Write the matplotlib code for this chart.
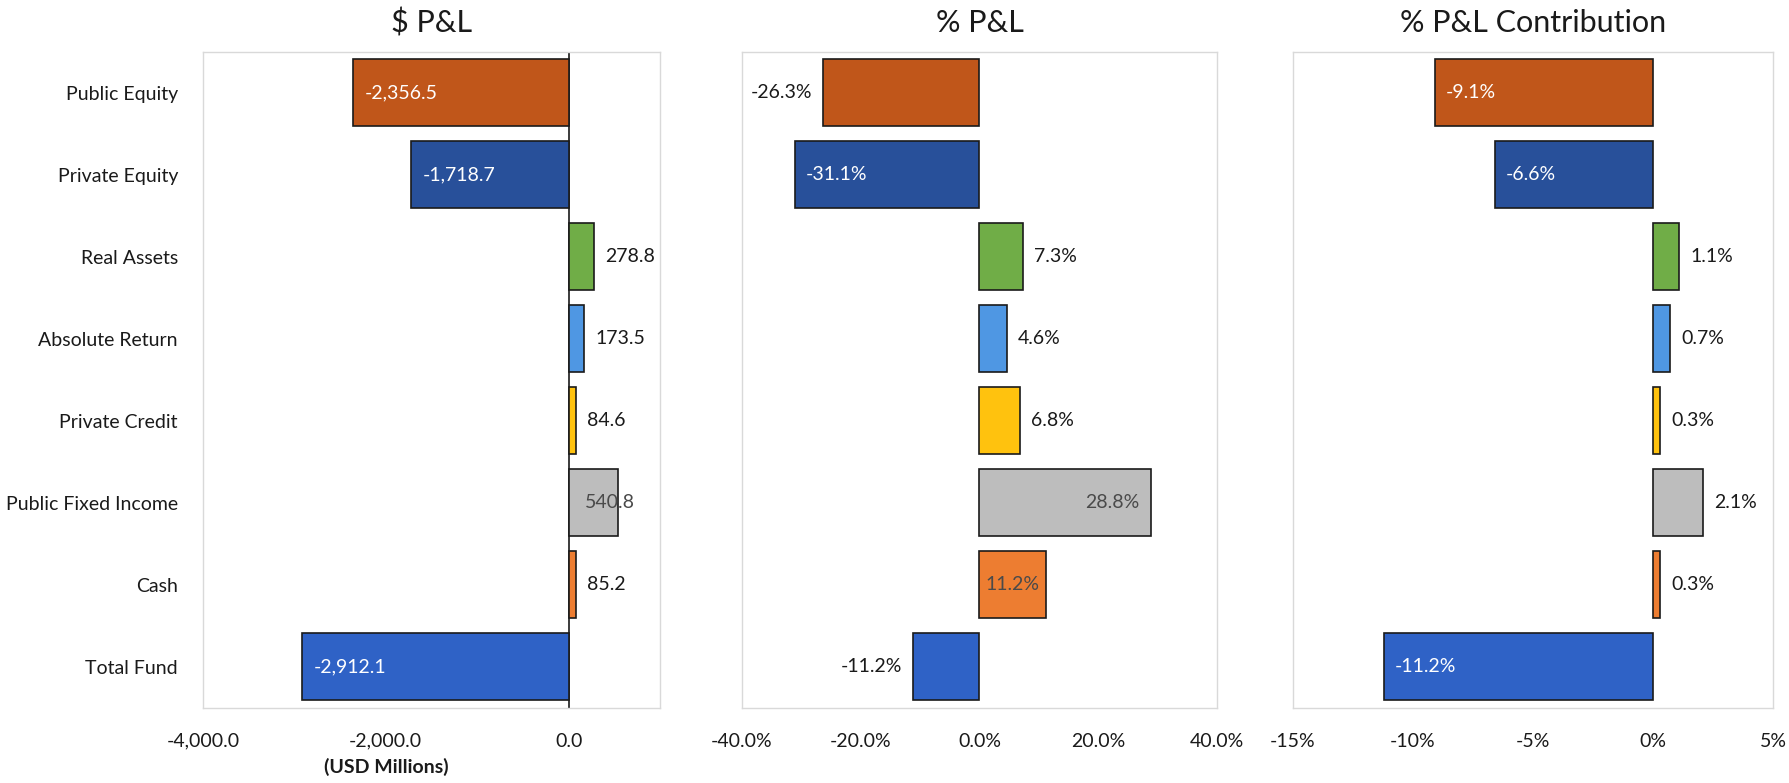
import matplotlib
matplotlib.use("Agg")
import matplotlib.pyplot as plt
from matplotlib.ticker import FuncFormatter, MultipleLocator

plt.rcParams["font.family"] = ["Lato", "DejaVu Sans"]

# Asset classes and P&L figures
categories = ["Public Equity", "Private Equity", "Real Assets", "Absolute Return",
              "Private Credit", "Public Fixed Income", "Cash", "Total Fund"]
pnl_usd = [-2356.5, -1718.7, 278.8, 173.5, 84.6, 540.8, 85.2, -2912.1]
pnl_pct = [-26.3, -31.1, 7.3, 4.6, 6.8, 28.8, 11.2, -11.2]
pnl_contrib = [-9.1, -6.6, 1.1, 0.7, 0.3, 2.1, 0.3, -11.2]

bar_colors = ["#C0561A", "#28509A", "#70AD47", "#4F97E3", "#FFC20E",
              "#BDBDBD", "#ED7D31", "#2F62C6"]

# label placement per bar: "in" = inside the far end, "out" = beyond the far end,
# "mid" = centred on the bar, "edge" = straddling the far end
usd_place = ["in", "in", "out", "out", "out", "edge", "out", "in"]
pct_place = ["out", "in", "out", "out", "out", "in", "mid", "out"]
contrib_place = ["in", "in", "out", "out", "out", "out", "out", "in"]

dark_fill = {0, 1, 7}


def label_style(i, place):
    if place == "in" and i in dark_fill:
        return "white"
    if place in ("in", "mid", "edge"):
        return "#4a4a4a"
    return "#1a1a1a"


def draw_panel(ax, values, places, fmt, title, xlim, step, tickfmt):
    y = list(range(len(categories)))
    ax.barh(y, values, height=0.82, color=bar_colors, edgecolor="#1a1a1a",
            linewidth=1.2, zorder=3)
    ax.set_ylim(len(categories) - 0.5, -0.5)
    ax.set_xlim(*xlim)
    ax.xaxis.set_major_locator(MultipleLocator(step))
    ax.xaxis.set_major_formatter(FuncFormatter(tickfmt))
    ax.tick_params(axis="both", length=0, labelsize=14, colors="#1a1a1a")
    ax.tick_params(axis="x", pad=18)
    for s in ax.spines.values():
        s.set_color("#d9d9d9")
        s.set_linewidth(1.0)
    ax.set_title(title, fontsize=22, color="#1a1a1a", pad=14)
    for i, v in enumerate(values):
        place = places[i]
        txt = fmt(v)
        col = label_style(i, place)
        if place == "in":
            ha = "left" if v < 0 else "right"
            off = 8 if v < 0 else -8
            ax.annotate(txt, (v, i), xytext=(off, 0), textcoords="offset points",
                        ha=ha, va="center", fontsize=14, color=col, zorder=4)
        elif place == "out":
            ha = "right" if v < 0 else "left"
            off = -8 if v < 0 else 8
            ax.annotate(txt, (v, i), xytext=(off, 0), textcoords="offset points",
                        ha=ha, va="center", fontsize=14, color=col, zorder=4,
                        annotation_clip=False)
        elif place == "mid":
            ax.annotate(txt, (v / 2, i), ha="center", va="center",
                        fontsize=14, color=col, zorder=4)
        else:
            ax.annotate(txt, (v, i), xytext=(12, 0), textcoords="offset points",
                        ha="right", va="center", fontsize=14, color=col, zorder=4)


fig = plt.figure(figsize=(17.9, 7.83), dpi=100)
ax1 = fig.add_axes([0.1134, 0.096, 0.2553, 0.838])
ax2 = fig.add_axes([0.4145, 0.096, 0.2654, 0.838])
ax3 = fig.add_axes([0.7223, 0.096, 0.2682, 0.838])

draw_panel(ax1, pnl_usd, usd_place, lambda v: f"{v:,.1f}", "$ P&L",
           (-4000, 1000), 2000, lambda v, p: f"{v:,.1f}")
ax1.axvline(0, color="#1a1a1a", linewidth=1.2, zorder=2)
ax1.set_yticks(range(len(categories)))
ax1.set_yticklabels(categories)
ax1.tick_params(axis="y", pad=18)
fig.text(0.2156, 0.021, "(USD Millions)", fontsize=14, fontweight="bold",
         color="#1a1a1a", ha="center", va="center")

draw_panel(ax2, pnl_pct, pct_place, lambda v: f"{v:.1f}%", "% P&L",
           (-40, 40), 20, lambda v, p: f"{v:.1f}%")
ax2.set_yticks([])

draw_panel(ax3, pnl_contrib, contrib_place, lambda v: f"{v:.1f}%", "% P&L Contribution",
           (-15, 5), 5, lambda v, p: f"{v:.0f}%")
ax3.set_yticks([])

fig.savefig("out.png", dpi=100, facecolor="white")
